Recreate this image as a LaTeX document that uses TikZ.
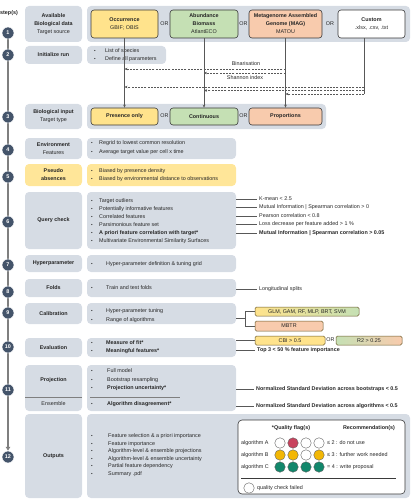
\documentclass[tikz,border=0pt]{standalone}
\usepackage{fontspec}
\setmainfont{Liberation Sans}
\usetikzlibrary{arrows.meta,backgrounds}
\definecolor{gbox}{HTML}{D6DCE4}
\definecolor{ylw}{HTML}{FFE38C}
\definecolor{ylwband}{HTML}{FFE699}
\definecolor{grn}{HTML}{C5E0B4}
\definecolor{org}{HTML}{F8CBAD}
\definecolor{dk}{HTML}{3A3A3A}
\definecolor{brd}{HTML}{6B5A2A}
\definecolor{stepc}{HTML}{44546A}
\definecolor{lgray}{HTML}{7F7F7F}
\definecolor{txtc}{HTML}{262626}
\definecolor{qred}{HTML}{C8435E}
\definecolor{qylw}{HTML}{F2B705}
\definecolor{qteal}{HTML}{12876B}
\newcommand\figfs{\fontsize{5.4}{8}\selectfont}
\newcommand\blist[4]{%
  \foreach \itmy/\itmtext [count=\k] in {#4} {
    \node[bul] (#1b\k) at (#2,\itmy) {\textbullet};
    \node[txt, anchor=west] (#1t\k) at (#3,\itmy) {\itmtext};
  }}
\tikzset{
  bxat/.style n args={4}{minimum width={#3-#1}, minimum height={#4-#2}, at={({(#1+#3)/2},{(#2+#4)/2})}},
  gb/.style={fill=gbox, rounded corners=4pt, inner sep=0pt, outer sep=0pt, align=center, font=\figfs, text=txtc},
  yb/.style={gb, fill=ylwband},
  cb/.style={draw=dk, line width=0.6pt, rounded corners=3pt, inner sep=0pt, align=center, font=\figfs, text=txtc},
  sb/.style={draw=brd, line width=0.5pt, rounded corners=1.5pt, inner sep=0pt, align=center, font=\figfs, text=txtc},
  txt/.style={font=\figfs, inner sep=0pt, text height=3.9pt, text depth=1.1pt, text=txtc},
  bul/.style={txt, font=\fontsize{4.5}{5}\selectfont},
  conn/.style={draw=dk!85, line width=0.5pt},
  annl/.style={conn, shorten >=2.5pt},
  arr/.style={-{Stealth[length=3pt,width=2.6pt]}},
  dsh/.style={dash pattern=on 2pt off 1.2pt},
  stp/.style={circle, fill=stepc, draw=white, line width=0.5pt, minimum size=12pt, inner sep=0pt, text=white, font=\figfs\bfseries},
  qc/.style={circle, minimum size=10.5pt, inner sep=0pt, draw=dk!80, line width=0.4pt},
}
\begin{document}
\begin{tikzpicture}[x=1pt,y=-1pt]
\useasboundingbox (0,0) rectangle (412,500);
% ---------- steps
\foreach \n/\yy in {1/33,2/55,3/117,4/150,5/177,6/222,7/265,8/292,9/313,10/347,11/390,12/457}
  \node[stp] (s\n) at (8,\yy) {\n};
\begin{pgfonlayer}{background}
\draw[lgray, line width=1.5pt, -{Triangle[length=4pt,width=4.5pt]}] (s1.center) -- (s12.north);
\end{pgfonlayer}
\node[txt, font=\figfs\bfseries] (steps) at (9,13) {step(s)};

% ---------- row 1
\node[gb, bxat={25}{6}{82}{42}] (L1) {\textbf{Available}\\\textbf{Biological data}\\Target source};
\node[gb, bxat={87}{6}{410}{42}] (R1) {};
\node[cb, fill=ylw, bxat={91}{10}{158}{38}] (occ) {\textbf{Occurrence}\\GBIF; OBIS};
\node[txt] (or1a) at (164.5,24) {OR};
\node[cb, fill=grn, bxat={170}{10}{238}{38}] (abd) {\textbf{Abundance}\\\textbf{Biomass}\\AtlantECO};
\node[txt] (or1b) at (243.5,24) {OR};
\node[cb, fill=org, bxat={249}{10}{322}{38}] (mag) {\textbf{Metagenome Assembled}\\\textbf{Genome (MAG)}\\MATOU};
\node[txt] (or1c) at (330,24) {OR};
\node[cb, fill=white, bxat={338}{10}{405}{38}] (cus) {\textbf{Custom}\\.xlsx, .csv, .txt};

% ---------- row 2
\node[gb, bxat={25}{46}{82}{64}] (L2) {\textbf{Initialize run}};
\node[gb, bxat={87}{46}{166}{64}] (R2) {};
\blist{r2}{95}{105}{51/List of species, 59.5/Define all parameters}

% ---------- row 3
\node[gb, bxat={25}{104}{82}{129}] (L3) {\textbf{Biological input}\\Target type};
\node[gb, bxat={87}{104}{326}{129}] (R3) {};
\node[cb, fill=ylw, bxat={91}{108}{158}{125}] (pres) {\textbf{Presence only}};
\node[txt] (or3a) at (164.5,116.5) {OR};
\node[cb, fill=grn, bxat={170}{108}{238}{125}] (cont) {\textbf{Continuous}};
\node[txt] (or3b) at (243.5,116.5) {OR};
\node[cb, fill=org, bxat={249}{108}{322}{125}] (prop) {\textbf{Proportions}};

% data flow arrows
\draw[conn, arr] (occ) -- (pres);
\draw[conn, arr] (abd) -- (cont);
\draw[conn, arr] (mag) -- (prop);
\coordinate (m1) at (285.5,69);
\coordinate (m2) at (285.5,73);
\draw[conn, dsh, arr] (m1) -- (m1 -| occ);
\draw[conn, dsh, arr] (m2) -- (m2 -| abd);
\node[txt] (bin) at (246,64.5) {Binarisation};
\node[txt] (sha) at (245,78) {Shannon index};
\coordinate (c1) at (364,87);
\coordinate (c2) at (364,90.5);
\coordinate (c3) at (364,94);
\draw[conn] (cus.south -| c3) -- (c3);
\draw[conn, dsh, arr] (c1) -- (c1 -| occ);
\draw[conn, dsh, arr] (c2) -- (c2 -| abd);
\draw[conn, dsh, arr] (c3) -- (c3 -| mag);

% ---------- row 4
\node[gb, bxat={25}{138}{82}{159}] (L4) {\textbf{Environment}\\Features};
\node[gb, bxat={87}{138}{236}{159}] (R4) {};
\blist{r4}{92}{99}{143.5/Regrid to lowest common resolution, 152/Average target value per cell x time}

% ---------- row 5
\node[yb, bxat={25}{164}{82}{186}] (L5) {\textbf{Pseudo}\\\textbf{absences}};
\node[yb, bxat={87}{164}{236}{186}] (R5) {};
\blist{r5}{92}{99}{171/Biased by presence density, 179/Biased by environmental distance to observations}

% ---------- row 6
\node[gb, bxat={25}{192}{82}{249}] (L6) {\textbf{Query check}};
\node[gb, bxat={87}{192}{236}{249}] (R6) {};
\blist{r6}{92}{99}{201/Target outliers, 209/Potentially informative features, 217/Correlated features, 225/Parsimonious feature set, 233/\textbf{A priori feature correlation with target*}, 241/Multivariate Environmental Similarity Surfaces}
\foreach \yy/\at [count=\k] in {199/K-mean < 2.5, 207.5/Mutual Information | Spearman correlation > 0, 216/Pearson correlation < 0.8, 224.5/Loss decrease per feature added > 1 \%, 233/\textbf{Mutual Information | Spearman correlation > 0.05}} {
  \node[txt, anchor=west] (a6\k) at (259,\yy) {\at};
  \draw[annl] (R6.east |- a6\k) -- (a6\k.west);
}

% ---------- row 7
\node[gb, bxat={25}{255}{82}{272}] (L7) {\textbf{Hyperparameter}};
\node[gb, bxat={87}{255}{236}{272}] (R7) {};
\blist{r7}{92}{106}{264/Hyper-parameter definition \& tuning grid}

% ---------- row 8
\node[gb, bxat={25}{279}{82}{297}] (L8) {\textbf{Folds}};
\node[gb, bxat={87}{279}{236}{297}] (R8) {};
\blist{r8}{92}{106}{288/Train and test folds}
\node[txt, anchor=west] (a8) at (259,289) {Longitudinal splits};
\draw[annl] (R8.east |- a8) -- (a8.west);

% ---------- row 9
\node[gb, bxat={25}{303}{82}{324}] (L9) {\textbf{Calibration}};
\node[gb, bxat={87}{303}{236}{324}] (R9) {};
\blist{r9}{92}{106}{311/Hyper-parameter tuning, 320/Range of algorithms}
\node[sb, left color=ylw, middle color=ylw, right color=grn, bxat={255}{307}{359}{316}] (glm) {GLM, GAM, RF, MLP, BRT, SVM};
\node[sb, fill=org, bxat={255}{321}{323}{331}] (mbtr) {MBTR};
\coordinate (cj) at (245,318.5);
\draw[conn] (R9.east |- cj) -- (cj);
\draw[conn] (glm.west) -- (glm.west -| cj) -- (mbtr.west -| cj) -- (mbtr.west);

% ---------- row 10
\node[gb, bxat={25}{338}{82}{357}] (L10) {\textbf{Evaluation}};
\node[gb, bxat={87}{338}{236}{357}] (R10) {};
\blist{r10}{92}{106}{343/\textbf{Measure of fit*}, 351/\textbf{Meaningful features*}}
\node[sb, fill=ylw, bxat={255}{336}{325}{345}] (cbi) {CBI > 0.5};
\node[txt] (or10) at (330.5,340.5) {OR};
\node[sb, left color=grn, middle color=grn, right color=org, bxat={336}{336}{402}{345}] (r2) {R2 > 0.25};
\draw[conn] (R10.east |- cbi) -- (cbi.west);
\node[txt, anchor=west, font=\figfs\bfseries] (top3) at (257,350.5) {Top 3 < 50 \% feature importance};
\draw[annl] (R10.east |- top3) -- (top3.west);

% ---------- row 11
\node[gb, bxat={25}{365}{82}{411}] (L11) {};
\draw[lgray, line width=0.5pt] (L11.west |- 0,397) -- (L11.east |- 0,397);
\node[txt, font=\figfs\bfseries] (proj) at (53.5,380) {Projection};
\node[txt] (ens) at (53.5,404) {Ensemble};
\node[gb, bxat={87}{365}{236}{411}] (R11) {};
\blist{r11}{92}{107}{371/Full model, 380/Bootstrap resampling, 388.5/\textbf{Projection uncertainty*}, 404/\textbf{Algorithm disagreement*}}
\draw[lgray, line width=0.5pt] (90,397) -- (180,397);
\node[txt, anchor=west, font=\figfs\bfseries] (a11a) at (256,389) {Normalized Standard Deviation across bootstraps < 0.5};
\node[txt, anchor=west, font=\figfs\bfseries] (a11b) at (256,406) {Normalized Standard Deviation across algorithms < 0.5};
\draw[annl] (R11.east |- a11a) -- (a11a.west);
\draw[annl] (R11.east |- a11b) -- (a11b.west);

% ---------- row 12
\node[gb, bxat={25}{414}{82}{498}] (L12) {\textbf{Outputs}};
\node[gb, bxat={87}{414}{410}{498}] (R12) {};
\blist{r12}{92}{108}{436/Feature selection \& a priori importance, 443.6/Feature importance, 451.2/Algorithm-level \& ensemble projections, 458.8/Algorithm-level \& ensemble uncertainty, 466.4/Partial feature dependency, 474/Summary .pdf}

% legend
\node[draw=dk, line width=0.6pt, fill=white, rounded corners=4pt, inner sep=0pt, bxat={238}{420}{405}{494}] (leg) {};
\node[txt, font=\figfs\bfseries] (qfh) at (291,428) {*Quality flag(s)};
\node[txt, font=\figfs\bfseries] (rech) at (369,428) {Recommendation(s)};
\foreach \rw/\yy/\ca/\cb/\cc/\cd/\rec in {A/443/white/qred/white/white/≤ 2 : do not use, B/455/qylw/qylw/white/qylw/≤ 3 : further work needed, C/467/qteal/qteal/qteal/qteal/= 4 : write proposal} {
  \node[txt, anchor=west] (alg\rw) at (241,\yy) {algorithm \rw};
  \foreach \cl [count=\j] in {\ca,\cb,\cc,\cd}
    \node[qc, fill=\cl] (q\rw\j) at ({267+13*\j},\yy) {};
  \node[txt, anchor=west] (rec\rw) at (327,\yy) {\rec};
}
\draw[dk, line width=0.5pt] (241,478.5) -- (396,478.5);
\node[qc, fill=white] (qfail) at (249,488) {};
\node[txt, anchor=west] (qft) at (257,488) {quality check failed};
\end{tikzpicture}
\end{document}
